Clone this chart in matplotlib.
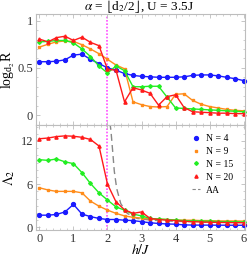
import matplotlib
matplotlib.use("Agg")
import matplotlib.pyplot as plt
from matplotlib.lines import Line2D

plt.rcParams["font.family"] = ["Liberation Serif", "DejaVu Serif"]
plt.rcParams["mathtext.fontset"] = "stix"

h = [0.0, 0.25, 0.5, 0.75, 1.0, 1.25, 1.5, 1.75, 2.0, 2.25, 2.5, 2.75, 3.0,
     3.25, 3.5, 3.75, 4.0, 4.25, 4.5, 4.75, 5.0, 5.25, 5.5, 5.75, 6.0]

# top panel: log_{d2} R
logR_n4 = [0.565, 0.565, 0.57, 0.585, 0.635, 0.645, 0.59, 0.545, 0.50, 0.475,
           0.44, 0.42, 0.41, 0.405, 0.40, 0.40, 0.40, 0.405, 0.42, 0.425,
           0.425, 0.415, 0.40, 0.385, 0.365]
logR_n9 = [0.72, 0.75, 0.775, 0.785, 0.78, 0.745, 0.70, 0.65, 0.59, 0.53,
           0.49, 0.14, 0.11, 0.09, 0.085, 0.09, 0.22, 0.225, 0.155, 0.115,
           0.09, 0.075, 0.06, 0.05, 0.045]
logR_n15 = [0.775, 0.78, 0.79, 0.79, 0.765, 0.70, 0.62, 0.52, 0.445, 0.52,
            0.47, 0.30, 0.30, 0.305, 0.305, 0.19, 0.075, 0.07, 0.065, 0.06,
            0.055, 0.05, 0.045, 0.04, 0.035]
logR_n20 = [0.805, 0.775, 0.82, 0.835, 0.79, 0.825, 0.77, 0.735, 0.485, 0.475,
            0.14, 0.29, 0.265, 0.23, 0.105, 0.195, 0.215, 0.08, 0.035, 0.03,
            0.025, 0.02, 0.02, 0.015, 0.015]

# bottom panel: Lambda_2
lam_n4 = [1.7, 1.7, 1.8, 2.15, 3.2, 1.85, 1.5, 1.25, 1.1, 1.1, 1.0, 0.95,
          0.8, 0.65, 0.55, 0.48, 0.45, 0.35, 0.33, 0.32, 0.32, 0.31, 0.31,
          0.3, 0.3]
lam_n9 = [5.5, 5.2, 5.0, 5.0, 5.0, 4.8, 3.65, 2.95, 2.4, 1.95, 1.6, 1.4,
          1.3, 1.2, 1.15, 1.1, 1.05, 1.0, 1.0, 0.95, 0.95, 0.9, 0.9, 0.9,
          0.88]
lam_n15 = [9.4, 9.3, 9.5, 9.1, 8.85, 7.6, 6.1, 4.8, 3.8, 2.85, 2.4, 1.85,
           1.6, 1.25, 1.15, 1.1, 1.0, 0.95, 0.9, 0.88, 0.85, 0.82, 0.8,
           0.78, 0.75]
lam_n20 = [12.3, 12.4, 12.6, 12.7, 12.65, 12.5, 12.2, 11.3, 6.0, 3.55, 2.45,
           1.95, 2.15, 1.25, 1.1, 1.0, 0.95, 0.85, 0.8, 0.75, 0.72, 0.7,
           0.68, 0.66, 0.65]

# AA reference curve
h_aa = [2.07, 2.1, 2.15, 2.2, 2.27, 2.39, 2.58, 2.87, 3.3, 4.0, 5.0, 6.0]
lam_aa = [14.5, 13.5, 10.7, 7.8, 5.4, 3.3, 1.95, 1.25, 1.0, 0.85, 0.75, 0.7]

series = [
    ("N = 4", logR_n4, lam_n4, "#1a1aff", "o", 2.8),
    ("N = 9", logR_n9, lam_n9, "#ff8c1a", "s", 2.0),
    ("N = 15", logR_n15, lam_n15, "#22ee22", "D", 1.9),
    ("N = 20", logR_n20, lam_n20, "#ff1a1a", "^", 2.3),
]

FRAME = "#bdbdbd"

fig = plt.figure(figsize=(2.49, 2.60), dpi=100)
ax1 = fig.add_axes([0.1446, 0.519, 0.8394, 0.427])
ax2 = fig.add_axes([0.1446, 0.115, 0.8394, 0.404])

for label, top, bot, col, mk, ms in series:
    ax1.plot(h, top, color=col, lw=1.0, marker=mk, ms=ms, mec=col, clip_on=False)
    ax2.plot(h, bot, color=col, lw=1.0, marker=mk, ms=ms, mec=col, clip_on=False)

ax2.plot(h_aa, lam_aa, color="#888888", lw=1.0, ls=(0, (5, 3)), zorder=1)

for ax in (ax1, ax2):
    ax.axvline(2.0, color="#ff50ff", lw=1.2, ls=(0, (1, 1)), zorder=0)
    ax.set_xlim(-0.1, 6.04)
    ax.set_xticks(range(7))
    ax.set_xticks([i * 0.2 for i in range(31)], minor=True)
    for sp in ax.spines.values():
        sp.set_color(FRAME)
        sp.set_linewidth(0.8)
    ax.tick_params(direction="in", colors=FRAME, labelcolor="#333333",
                   labelsize=9, length=3, width=0.6, top=True, right=True,
                   pad=2)
    ax.tick_params(which="minor", direction="in", colors=FRAME, length=1.5,
                   width=0.5, top=True, right=True)

ax1.set_ylim(-0.106, 1.07)
ax1.set_yticks([0, 0.5, 1])
ax1.set_yticklabels(["0", "0.5", "1"])
ax1.set_yticks([0.1 * i for i in range(11)], minor=True)
ax1.tick_params(labelbottom=False)
ax1.set_ylabel(r"log$_{\mathregular{d}_2}$R", fontsize=10, labelpad=0)

ax2.set_ylim(-0.37, 14.2)
ax2.set_yticks([0, 6, 12])
ax2.set_yticks(range(0, 15), minor=True)
ax2.set_ylabel(r"$\Lambda_2$", fontsize=10, labelpad=3)
ax2.set_xlabel(r"$h/J$", fontsize=10, labelpad=-1)

fig.text(0.56, 0.973, r"$\alpha$ = $\lfloor$d$_2$/2$\rfloor$, U = 3.5J",
         ha="center", va="center", fontsize=9.5)

handles = [Line2D([], [], color=col, marker=mk, ms=ms, ls="none")
           for _, _, _, col, mk, ms in series]
handles.append(Line2D([], [], color="#888888", lw=0.8, ls=(0, (3, 2))))
labels = [s[0] for s in series] + ["AA"]
ax2.legend(handles, labels, loc="upper right", bbox_to_anchor=(0.97, 0.97),
           frameon=False, fontsize=7, handlelength=0.8, handletextpad=0.6,
           labelspacing=0.4, borderaxespad=0.2)

fig.savefig("out.png", dpi=100)
